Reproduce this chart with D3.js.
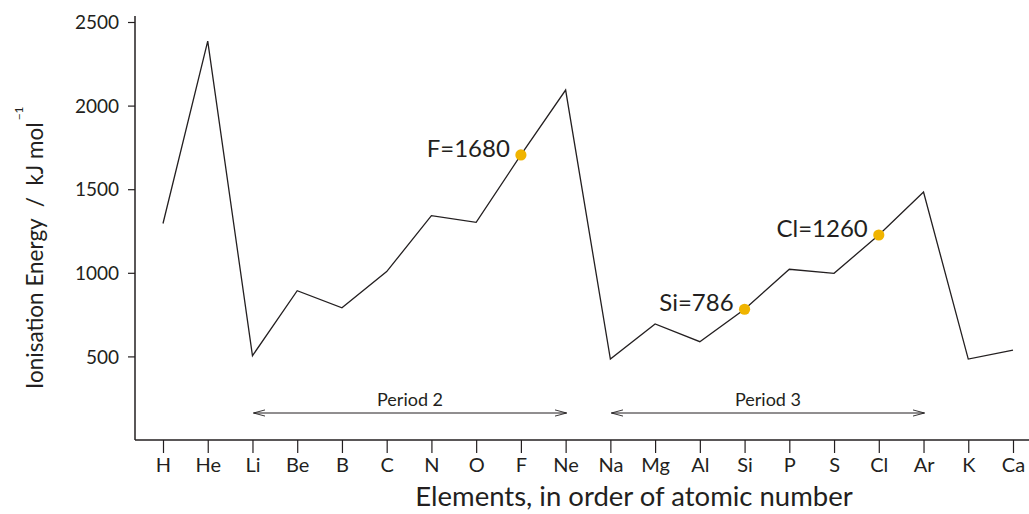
<!DOCTYPE html>
<html>
<head>
<meta charset="utf-8">
<script src="https://cdn.jsdelivr.net/npm/d3@7"></script>
<style>
  html, body { margin: 0; padding: 0; background: #fff; }
  svg { display: block; font-family: Lato, "Open Sans", sans-serif; }
</style>
</head>
<body>
<svg id="chart" width="1029" height="514"></svg>
<script>
// ---- data ----
const elements = ["H","He","Li","Be","B","C","N","O","F","Ne","Na","Mg","Al","Si","P","S","Cl","Ar","K","Ca"];
const energies = [1295, 2386, 504, 893, 791, 1007, 1342, 1302, 1705, 2093, 484, 694, 588, 782, 1021, 997, 1226, 1483, 484, 538];
const yTicks = [500, 1000, 1500, 2000, 2500];
const highlightNames = ["F", "Si", "Cl"];
const highlightLabels = ["F=1680", "Si=786", "Cl=1260"];
const periodNames = ["Period 2", "Period 3"];
const periodStart = ["Li", "Na"];
const periodEnd = ["Ne", "Ar"];
const yTitle = "Ionisation Energy  /  kJ mol";
const yTitleSup = "\u22121";
const xTitle = "Elements, in order of atomic number";

// ---- layout ----
const W = 1029, H = 514;
const axisX = 135, axisY = 440;
const ink = "#231f20";
const dotColor = "#f0b400";
const FONT = "Lato, 'Open Sans', sans-serif";

const svg = d3.select("#chart");

const x = d3.scalePoint().domain(elements).range([163, 1013]).padding(0);
const y = d3.scaleLinear().domain([0, 2500]).range([axisY, 22]);

// Y axis
const yAxis = d3.axisLeft(y).tickValues(yTicks).tickFormat(d3.format("d"))
  .tickSize(7).tickSizeOuter(0).tickPadding(9);
const gy = svg.append("g").attr("transform", `translate(${axisX},0)`).call(yAxis)
  .attr("font-family", FONT).attr("font-size", null);
gy.select(".domain").remove();
gy.selectAll(".tick line").attr("stroke", ink).attr("stroke-width", 1.2);
gy.selectAll(".tick text").attr("fill", ink).style("font-size", "19px").attr("dy", "0.35em");
svg.append("line")
  .attr("x1", axisX).attr("x2", axisX)
  .attr("y1", y(2536)).attr("y2", axisY)
  .attr("stroke", ink).attr("stroke-width", 1.5);

// X axis
const xAxis = d3.axisBottom(x).tickSize(13).tickSizeOuter(0).tickPadding(5);
const gx = svg.append("g").attr("transform", `translate(0,${axisY})`).call(xAxis)
  .attr("font-family", FONT).attr("font-size", null);
gx.select(".domain").remove();
gx.selectAll(".tick line").attr("stroke", ink).attr("stroke-width", 1.2);
gx.selectAll(".tick text").attr("fill", ink).style("font-size", "20px");
svg.append("line")
  .attr("x1", axisX).attr("x2", W)
  .attr("y1", axisY).attr("y2", axisY)
  .attr("stroke", ink).attr("stroke-width", 1.5);

// Line
const line = d3.line().x((d, i) => x(elements[i])).y(d => y(d));
svg.append("path")
  .datum(energies)
  .attr("d", line)
  .attr("fill", "none")
  .attr("stroke", ink)
  .attr("stroke-width", 1.3)
  .attr("stroke-linejoin", "miter");

// Highlight dots and labels
highlightNames.forEach((name, k) => {
  const i = elements.indexOf(name);
  const cx = x(name), cy = y(energies[i]);
  svg.append("circle").attr("cx", cx).attr("cy", cy).attr("r", 5.6).attr("fill", dotColor);
  svg.append("text")
    .attr("x", cx - 11).attr("y", cy + 2)
    .attr("text-anchor", "end")
    .attr("fill", ink)
    .style("font-size", "24px")
    .text(highlightLabels[k]);
});

// Period arrows
const defs = svg.append("defs");
defs.append("marker")
  .attr("id", "chev").attr("viewBox", "0 0 12 8")
  .attr("refX", 12).attr("refY", 4)
  .attr("markerWidth", 12).attr("markerHeight", 8)
  .attr("markerUnits", "userSpaceOnUse")
  .attr("orient", "auto-start-reverse")
  .append("path")
  .attr("d", "M0,0.8 L12,4 L0,7.2")
  .attr("fill", "none").attr("stroke", ink).attr("stroke-width", 0.9);

const arrowY = 413;
periodNames.forEach((name, k) => {
  const x1 = x(periodStart[k]) + 1, x2 = x(periodEnd[k]) + 1;
  svg.append("line")
    .attr("x1", x1).attr("x2", x2)
    .attr("y1", arrowY).attr("y2", arrowY)
    .attr("stroke", ink).attr("stroke-width", 1)
    .attr("marker-start", "url(#chev)")
    .attr("marker-end", "url(#chev)");
  svg.append("text")
    .attr("x", (x1 + x2) / 2).attr("y", arrowY - 7)
    .attr("text-anchor", "middle")
    .attr("fill", ink)
    .style("font-size", "18px")
    .text(name);
});

// Axis titles
svg.append("text")
  .attr("x", 634).attr("y", 506)
  .attr("text-anchor", "middle")
  .attr("fill", ink)
  .style("font-size", "27.5px")
  .text(xTitle);

const yt = svg.append("text")
  .attr("transform", "translate(43,389) rotate(-90)")
  .attr("text-anchor", "start")
  .attr("fill", ink)
  .style("font-size", "22.5px")
  .style("white-space", "pre");
yt.append("tspan").text(yTitle);
yt.append("tspan").attr("dy", -20).attr("dx", 2).style("font-size", "12px").text(yTitleSup);
</script>
</body>
</html>
